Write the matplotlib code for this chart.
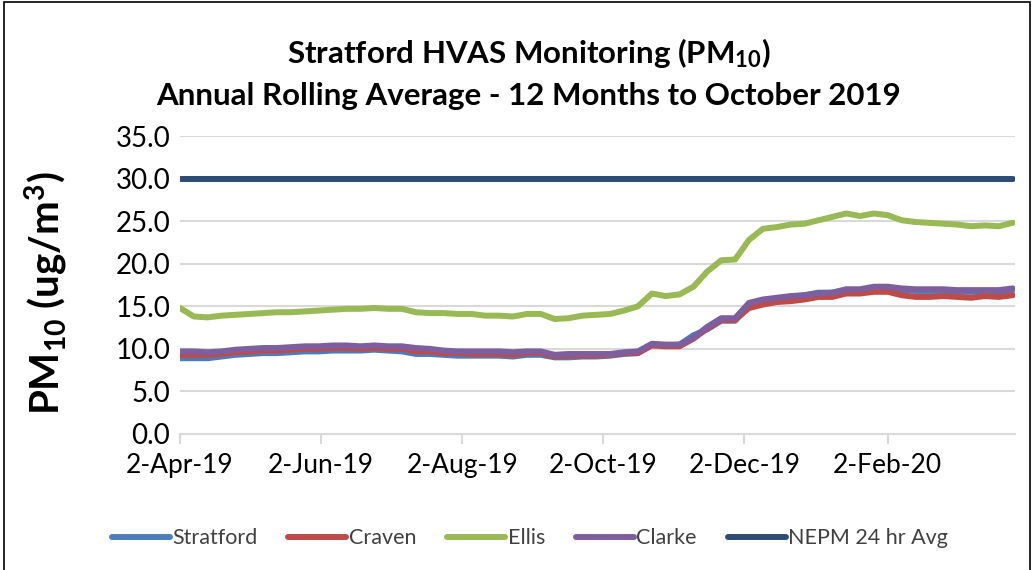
import numpy as np
import pandas as pd
import matplotlib
matplotlib.use("Agg")
import matplotlib.pyplot as plt
import matplotlib.dates as mdates
from matplotlib.patches import Rectangle

plt.rcParams['font.family'] = ['Lato', 'DejaVu Sans']
plt.rcParams['mathtext.default'] = 'regular'

# sample dates: HVAS runs on a 1-in-6 day cycle
dates = pd.date_range('2019-04-02', periods=61, freq='6D')

stratford = [8.9, 8.9, 8.9, 9.1, 9.3, 9.4, 9.5, 9.5, 9.6, 9.7,
             9.7, 9.8, 9.8, 9.8, 9.9, 9.8, 9.7, 9.4, 9.4, 9.3,
             9.2, 9.2, 9.2, 9.2, 9.1, 9.3, 9.3, 9.0, 9.0, 9.1,
             9.1, 9.2, 9.4, 9.5, 10.5, 10.4, 10.5, 11.6, 12.3, 13.3,
             13.3, 15.2, 15.7, 15.9, 16.1, 16.3, 16.6, 16.6, 16.9, 16.9,
             17.1, 17.1, 16.9, 16.8, 16.8, 16.8, 16.7, 16.7, 16.7, 16.7,
             16.9]
craven = [9.3, 9.3, 9.3, 9.4, 9.6, 9.7, 9.8, 9.8, 9.9, 10.0,
          10.0, 10.1, 10.1, 10.0, 10.1, 10.0, 10.0, 9.7, 9.7, 9.5,
          9.5, 9.4, 9.4, 9.4, 9.3, 9.5, 9.5, 9.1, 9.2, 9.2,
          9.2, 9.3, 9.5, 9.5, 10.4, 10.3, 10.3, 11.2, 12.4, 13.4,
          13.4, 14.8, 15.2, 15.5, 15.6, 15.8, 16.1, 16.1, 16.5, 16.5,
          16.7, 16.7, 16.3, 16.1, 16.1, 16.2, 16.1, 16.0, 16.2, 16.1,
          16.3]
ellis = [14.8, 13.8, 13.7, 13.9, 14.0, 14.1, 14.2, 14.3, 14.3, 14.4,
         14.5, 14.6, 14.7, 14.7, 14.8, 14.7, 14.7, 14.3, 14.2, 14.2,
         14.1, 14.1, 13.9, 13.9, 13.8, 14.1, 14.1, 13.5, 13.6, 13.9,
         14.0, 14.1, 14.5, 15.0, 16.5, 16.2, 16.4, 17.3, 19.1, 20.4,
         20.5, 22.8, 24.1, 24.3, 24.6, 24.7, 25.1, 25.5, 25.9, 25.6,
         25.9, 25.7, 25.1, 24.9, 24.8, 24.7, 24.6, 24.4, 24.5, 24.4,
         24.8]
clarke = [9.7, 9.7, 9.6, 9.7, 9.9, 10.0, 10.1, 10.1, 10.2, 10.3,
          10.3, 10.4, 10.4, 10.3, 10.4, 10.3, 10.3, 10.1, 10.0, 9.8,
          9.7, 9.7, 9.7, 9.7, 9.6, 9.7, 9.7, 9.3, 9.4, 9.4,
          9.4, 9.4, 9.6, 9.7, 10.6, 10.5, 10.5, 11.3, 12.6, 13.6,
          13.6, 15.4, 15.8, 16.0, 16.2, 16.3, 16.5, 16.6, 17.0, 17.0,
          17.3, 17.3, 17.1, 17.0, 17.0, 17.0, 16.9, 16.9, 16.9, 16.9,
          17.1]
nepm = [30.0] * len(dates)

series = [
    ('Stratford', stratford, '#4A7EBB'),
    ('Craven', craven, '#BE4B48'),
    ('Ellis', ellis, '#98B954'),
    ('Clarke', clarke, '#7D5FA0'),
    ('NEPM 24 hr Avg', nepm, '#2C4D75'),
]

fig = plt.figure(figsize=(10.33, 5.70), dpi=100)
ax = fig.add_axes([0.1742, 0.2386, 0.8084, 0.5228])

for name, vals, col in series:
    ax.plot(dates, vals, color=col, lw=4.3, label=name, solid_capstyle='round')

ax.set_ylim(0, 35)
ax.set_yticks(np.arange(0, 35.1, 5))
ax.yaxis.set_major_formatter(matplotlib.ticker.FormatStrFormatter('%.1f'))
ax.set_xlim(dates[0], dates[-1] + pd.Timedelta(days=1))
ax.xaxis.set_major_locator(mdates.MonthLocator(bymonth=[2, 4, 6, 8, 10, 12], bymonthday=2))
ax.xaxis.set_major_formatter(mdates.DateFormatter('%-d-%b-%y'))

ax.grid(axis='y', color='#D9D9D9', lw=1.5)
ax.set_axisbelow(True)
for s in ['top', 'right', 'left']:
    ax.spines[s].set_visible(False)
ax.spines['bottom'].set_color('#D9D9D9')
ax.spines['bottom'].set_linewidth(1.5)
ax.tick_params(axis='y', length=0, labelsize=20, pad=7)
ax.tick_params(axis='x', length=7, width=1.5, color='#D9D9D9', labelsize=19, pad=7)

# y label placed in figure coords so its big font doesn't push it off
fig.text(0.045, 0.485, 'PM$_{10}$ (ug/m$^{3}$)', rotation=90, ha='center', va='center',
         fontsize=29, fontweight='bold')

fig.text(0.512, 0.907, 'Stratford HVAS Monitoring (PM$_{10}$)', ha='center', va='center',
         fontsize=22.5, fontweight='bold')
fig.text(0.512, 0.831, 'Annual Rolling Average - 12 Months to October 2019', ha='center',
         va='center', fontsize=22.5, fontweight='bold')

fig.legend(loc='center', bbox_to_anchor=(0.513, 0.056), ncol=5, frameon=False,
           fontsize=15.5, handlelength=2.7, handletextpad=0.1, columnspacing=1.45,
           labelcolor='#404040')

fig.patches.append(Rectangle((0.004, -0.01), 0.993, 1.006, transform=fig.transFigure,
                             fill=False, edgecolor='black', lw=1.2))

plt.savefig('out.png', dpi=100)
